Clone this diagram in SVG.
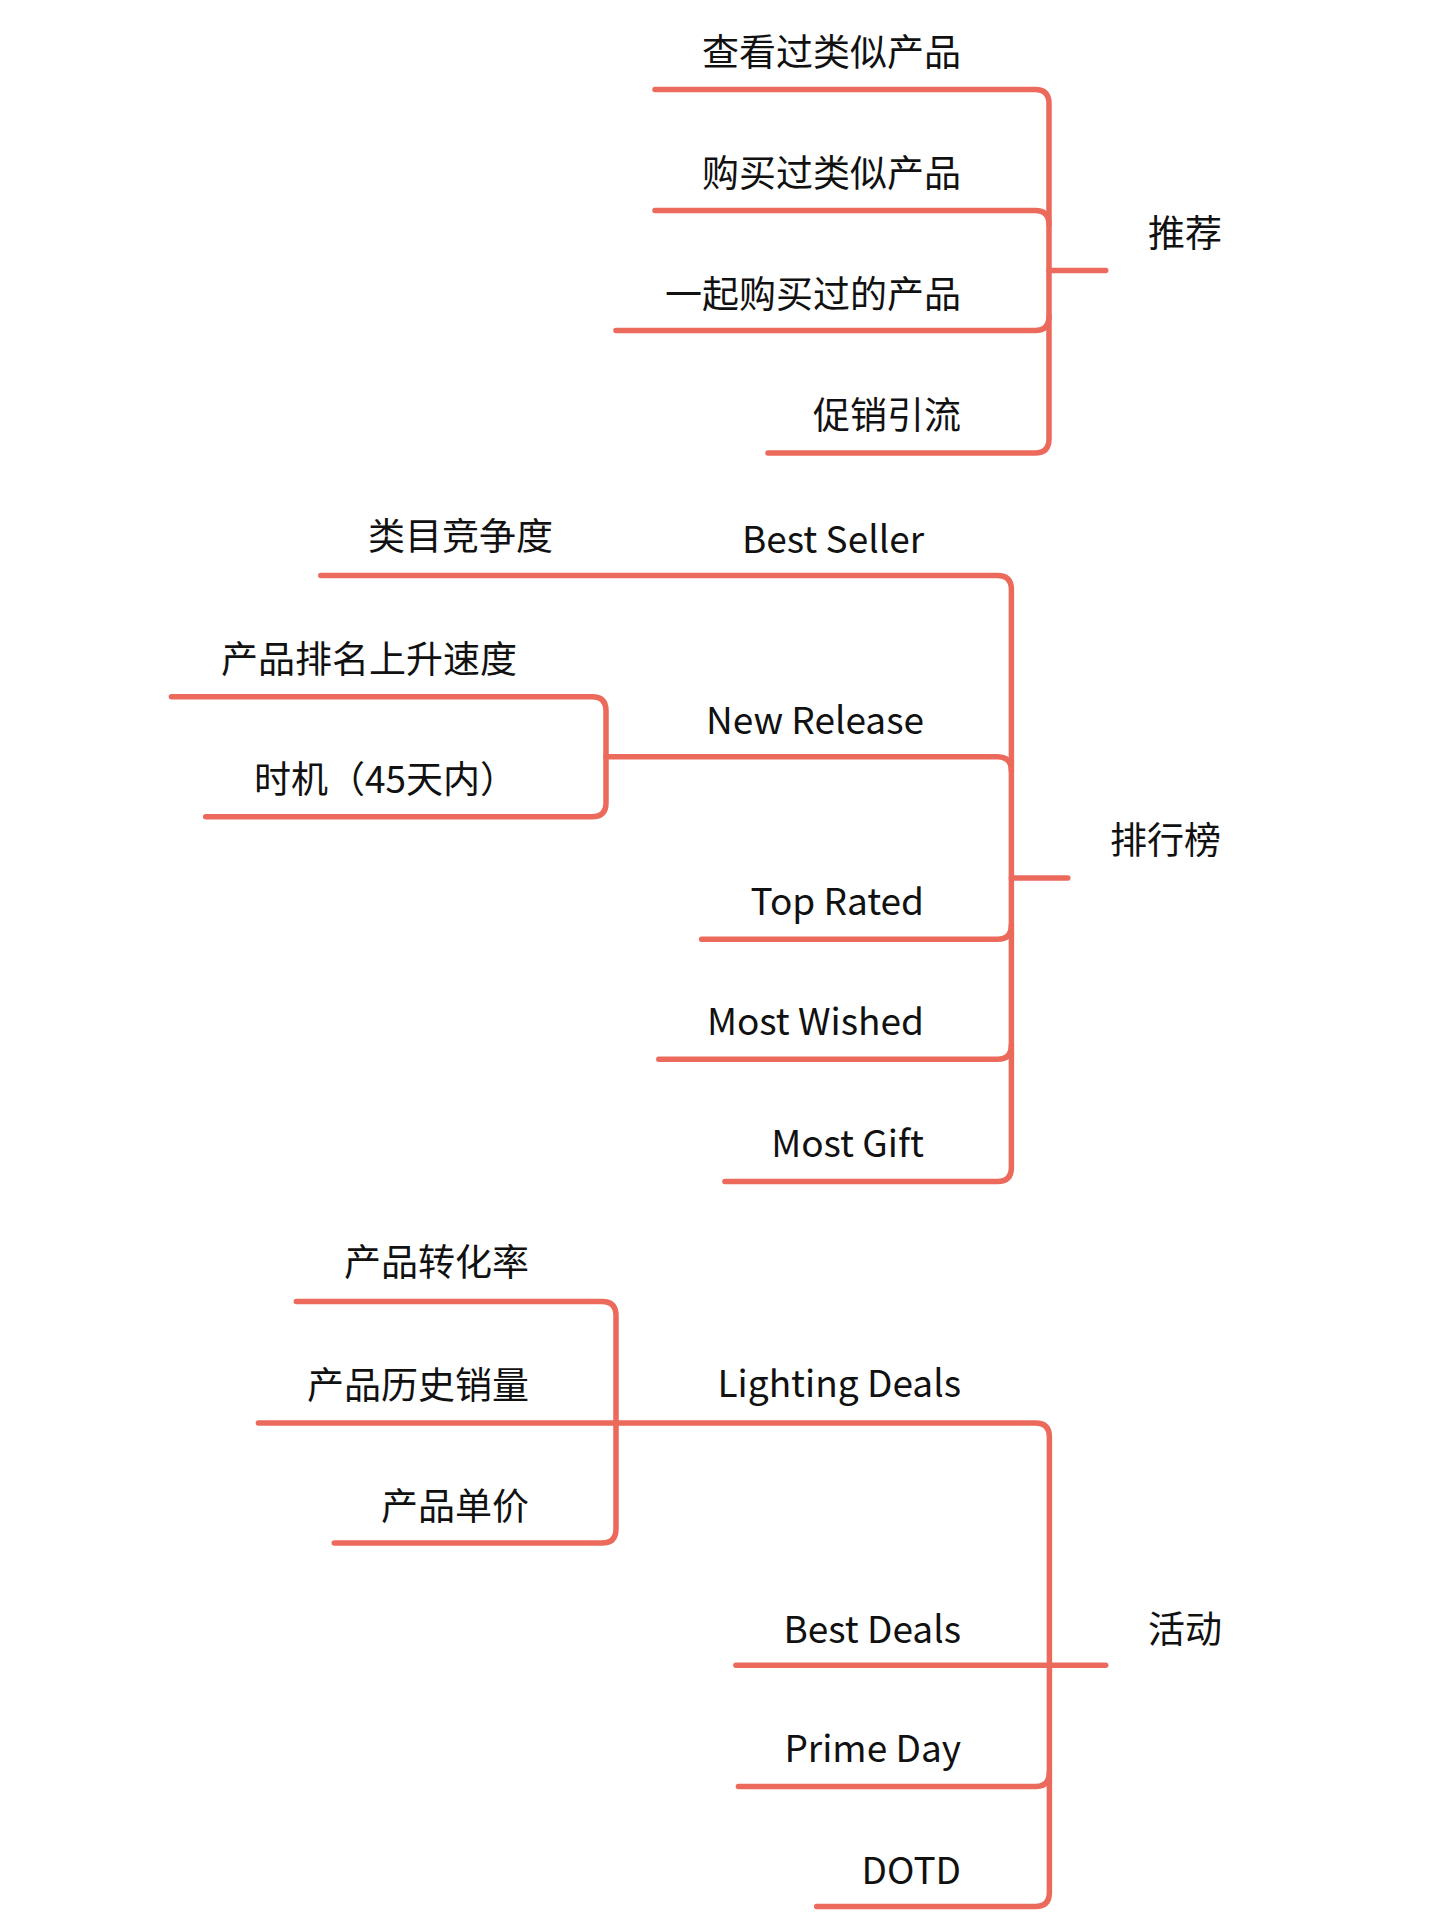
<svg xmlns="http://www.w3.org/2000/svg" width="1440" height="1920" viewBox="0 0 1440 1920">
<style>
.c{fill:none;stroke:#EB6A5C;stroke-width:5.5;stroke-linecap:round;stroke-linejoin:round}
text{font-family:"Noto Sans CJK SC","Noto Sans",sans-serif;font-size:37px;fill:#111}
.r{text-anchor:end}
</style>
<rect width="1440" height="1920" fill="#fff"/>
<g id="connectors">
<path class="c" d="M655 89.4H1035Q1049 89.4 1049 103.4V439Q1049 453 1035 453H768"/>
<path class="c" d="M655 210.6H1035Q1049 210.6 1049 224.6"/>
<path class="c" d="M616 330.6H1035Q1049 330.6 1049 316.6"/>
<path class="c" d="M1049 270.6H1105.7"/>
<path class="c" d="M320.8 575.5H997.4Q1011.4 575.5 1011.4 589.5V1167.6Q1011.4 1181.6 997.4 1181.6H724.9"/>
<path class="c" d="M606 756.7H997.4Q1011.4 756.7 1011.4 770.7"/>
<path class="c" d="M701.6 939.2H997.4Q1011.4 939.2 1011.4 925.2"/>
<path class="c" d="M658.8 1059.2H997.4Q1011.4 1059.2 1011.4 1045.2"/>
<path class="c" d="M1011.4 878H1067.8"/>
<path class="c" d="M171.4 696.7H592Q606 696.7 606 710.7V802.7Q606 816.7 592 816.7H205.7"/>
<path class="c" d="M296.3 1301.6H602Q616 1301.6 616 1315.6V1528.9Q616 1542.9 602 1542.9H334.3"/>
<path class="c" d="M258.4 1422.9H1035.4Q1049.4 1422.9 1049.4 1436.9V1892.5Q1049.4 1906.5 1035.4 1906.5H816.7"/>
<path class="c" d="M735.9 1665.3H1105.7"/>
<path class="c" d="M738.4 1786.5H1035.4Q1049.4 1786.5 1049.4 1772.5"/>
</g>
<g id="n-tuijian"><text x="1148" y="247">推荐</text></g>
<g id="n-1"><text class="r" x="961" y="66">查看过类似产品</text></g>
<g id="n-2"><text class="r" x="961" y="187">购买过类似产品</text></g>
<g id="n-3"><text class="r" x="961" y="308">一起购买过的产品</text></g>
<g id="n-4"><text class="r" x="961" y="429">促销引流</text></g>
<g id="n-paihang"><text x="1110" y="854">排行榜</text></g>
<g id="n-bestseller"><text class="r" x="924" y="553">Best Seller</text></g>
<g id="n-leimu"><text class="r" x="553" y="550">类目竞争度</text></g>
<g id="n-newrelease"><text class="r" x="924" y="734">New Release</text></g>
<g id="n-paiming"><text class="r" x="517" y="673">产品排名上升速度</text></g>
<g id="n-shiji"><text class="r" x="517" y="793">时机（45天内）</text></g>
<g id="n-toprated"><text class="r" x="924" y="915">Top Rated</text></g>
<g id="n-mostwished"><text class="r" x="924" y="1035">Most Wished</text></g>
<g id="n-mostgift"><text class="r" x="924" y="1157">Most Gift</text></g>
<g id="n-huodong"><text x="1148" y="1643">活动</text></g>
<g id="n-zhuanhua"><text class="r" x="529" y="1276">产品转化率</text></g>
<g id="n-lishi"><text class="r" x="529" y="1399">产品历史销量</text></g>
<g id="n-danjia"><text class="r" x="529" y="1520">产品单价</text></g>
<g id="n-lighting"><text class="r" x="961" y="1397">Lighting Deals</text></g>
<g id="n-bestdeals"><text class="r" x="961" y="1643">Best Deals</text></g>
<g id="n-prime"><text class="r" x="961" y="1762">Prime Day</text></g>
<g id="n-dotd"><text class="r" x="961" y="1884">DOTD</text></g>
</svg>
